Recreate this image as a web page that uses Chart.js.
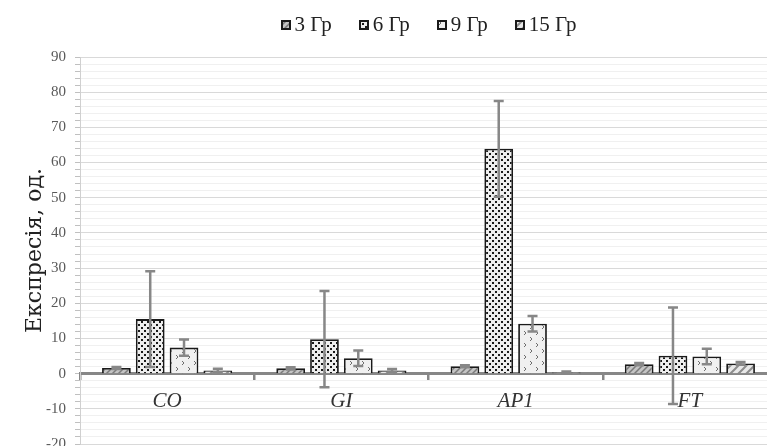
<!DOCTYPE html>
<html lang="uk">
	<head>
		<meta charset="utf-8">
		<title>Експресія</title>
		<style>
			html, body { margin: 0; padding: 0; background: #FFF; overflow: hidden; }
			#wrap { position: relative; width: 777px; height: 462px; }
			#legend {
				position: absolute; top: 12px; left: 80px; width: 697px;
				display: flex; justify-content: center; gap: 27px;
				font-family: 'Liberation Serif', 'Times New Roman', serif;
				font-size: 21px; color: #222;
			}
			#legend span { display: flex; align-items: center; }
			#legend canvas { margin-right: 4px; }
		</style>
		<script src="https://cdn.jsdelivr.net/npm/chart.js"></script>
	</head>
	<body>
		<div id="wrap">
			<canvas id="chart"></canvas>
			<div id="legend"></div>
		</div>
		<script>
			const categories = ["CO", "GI", "AP1", "FT"];
			const seriesNames = ["3 Гр", "6 Гр", "9 Гр", "15 Гр"];
			const dose3 = [1.6, 1.5, 2.1, 2.7];
			const dose6 = [15.5, 9.8, 63.9, 5.1];
			const dose9 = [7.4, 4.4, 14.2, 4.9];
			const dose15 = [0.9, 0.9, 0.3, 2.9];
			const err3 = [0.3, 0.3, 0.3, 0.3];
			const err6 = [13.6, 13.7, 13.6, 13.7];
			const err9 = [2.3, 2.2, 2.2, 2.2];
			const err15 = [0.5, 0.4, 0.3, 0.4];
			const yTicks = [-20, -10, 0, 10, 20, 30, 40, 50, 60, 70, 80, 90];

			// pattern fills for the four bar series
			function makePattern(size, draw) {
				const c = document.createElement("canvas");
				c.width = size; c.height = size;
				const g = c.getContext("2d");
				draw(g, size);
				return g.createPattern(c, "repeat");
			}
			const fills = [
				makePattern(6, (g, s) => {
					g.fillStyle = "#c4c4c4"; g.fillRect(0, 0, s, s);
					g.strokeStyle = "#7a7a7a"; g.lineWidth = 1.5;
					g.beginPath();
					g.moveTo(0, s); g.lineTo(s, 0);
					g.moveTo(-1, 1); g.lineTo(1, -1);
					g.moveTo(s - 1, s + 1); g.lineTo(s + 1, s - 1);
					g.stroke();
				}),
				makePattern(6, (g, s) => {
					g.fillStyle = "#eeeeee"; g.fillRect(0, 0, s, s);
					g.fillStyle = "#1a1a1a";
					g.fillRect(0, 0, 2, 2); g.fillRect(3, 3, 2, 2);
				}),
				makePattern(12, (g, s) => {
					g.fillStyle = "#f0f0f0"; g.fillRect(0, 0, s, s);
					g.strokeStyle = "#6e6e6e"; g.lineWidth = 1;
					g.beginPath();
					g.moveTo(2, 1); g.lineTo(4, 3); g.lineTo(2, 5);
					g.moveTo(8, 7); g.lineTo(10, 9); g.lineTo(8, 11);
					g.stroke();
				}),
				makePattern(8, (g, s) => {
					g.fillStyle = "#e8e8e8"; g.fillRect(0, 0, s, s);
					g.strokeStyle = "#8c8c8c"; g.lineWidth = 2;
					g.beginPath();
					g.moveTo(0, s); g.lineTo(s, 0);
					g.moveTo(-2, 2); g.lineTo(2, -2);
					g.moveTo(s - 2, s + 2); g.lineTo(s + 2, s - 2);
					g.stroke();
				})
			];

			const values = [dose3, dose6, dose9, dose15];
			const errors = [err3, err6, err9, err15];

			// html legend, centred over the plot area like the original
			const legend = document.getElementById("legend");
			seriesNames.forEach((name, i) => {
				const item = document.createElement("span");
				const box = document.createElement("canvas");
				box.width = 10; box.height = 10;
				const b = box.getContext("2d");
				b.fillStyle = fills[i]; b.fillRect(0, 0, 10, 10);
				b.strokeStyle = "#1a1a1a"; b.lineWidth = 2; b.strokeRect(1, 1, 8, 8);
				item.appendChild(box);
				item.appendChild(document.createTextNode(name));
				legend.appendChild(item);
			});

			const errorBars = {
				id: "errorBars",
				afterDatasetsDraw(chart) {
					const g = chart.ctx;
					const y = chart.scales.y;
					g.save();
					g.strokeStyle = "#878787";
					g.lineWidth = 2.5;
					chart.data.datasets.forEach((ds, i) => {
						const meta = chart.getDatasetMeta(i);
						meta.data.forEach((bar, j) => {
							const v = ds.data[j], e = errors[i][j];
							const top = y.getPixelForValue(v + e);
							const bot = y.getPixelForValue(v - e);
							g.beginPath();
							g.moveTo(bar.x, top); g.lineTo(bar.x, bot);
							g.moveTo(bar.x - 5, top); g.lineTo(bar.x + 5, top);
							g.moveTo(bar.x - 5, bot); g.lineTo(bar.x + 5, bot);
							g.stroke();
						});
					});
					g.restore();
				}
			};

			const serif = "'Liberation Serif', 'Times New Roman', serif";

			new Chart(document.getElementById("chart"), {
				type: "bar",
				data: {
					labels: categories,
					datasets: seriesNames.map((name, i) => ({
						label: name,
						data: values[i],
						backgroundColor: fills[i],
						borderColor: "#1a1a1a",
						borderWidth: 1.8,
						categoryPercentage: 0.776,
						barPercentage: 0.85
					}))
				},
				options: {
					responsive: true,
					maintainAspectRatio: false,
					animation: false,
					layout: { padding: { top: 57, right: 0, bottom: 3, left: 0 } },
					plugins: {
						legend: { display: false },
						tooltip: { enabled: false }
					},
					scales: {
						x: {
							position: { y: 0 },
							grid: {
								drawOnChartArea: false,
								drawTicks: true,
								tickLength: 6,
								color: "#878787",
								lineWidth: 2.5
							},
							border: { color: "#878787", width: 3 },
							ticks: {
								font: { family: serif, size: 21, style: "italic" },
								color: "#333",
								padding: 9
							}
						},
						y: {
							min: -20,
							max: 90,
							afterFit: s => { s.width = 80; },
							ticks: {
								stepSize: 2,
								autoSkip: false,
								font: { family: serif, size: 15 },
								color: "#595959",
								padding: 9,
								callback: v => yTicks.includes(v) ? String(v) : ""
							},
							grid: {
								color: c => c.tick.value % 10 === 0 ? "#d9d9d9" : "#f0f0f0",
								tickColor: "#c0c0c0",
								tickLength: 5
							},
							border: { color: "#d0d0d0" },
							title: {
								display: true,
								text: "Експресія, од.",
								font: { family: "'DejaVu Serif', serif", size: 22 },
								color: "#222",
								padding: { top: 22, bottom: 0 }
							}
						}
					}
				},
				plugins: [errorBars]
			});
		</script>
	</body>
</html>
